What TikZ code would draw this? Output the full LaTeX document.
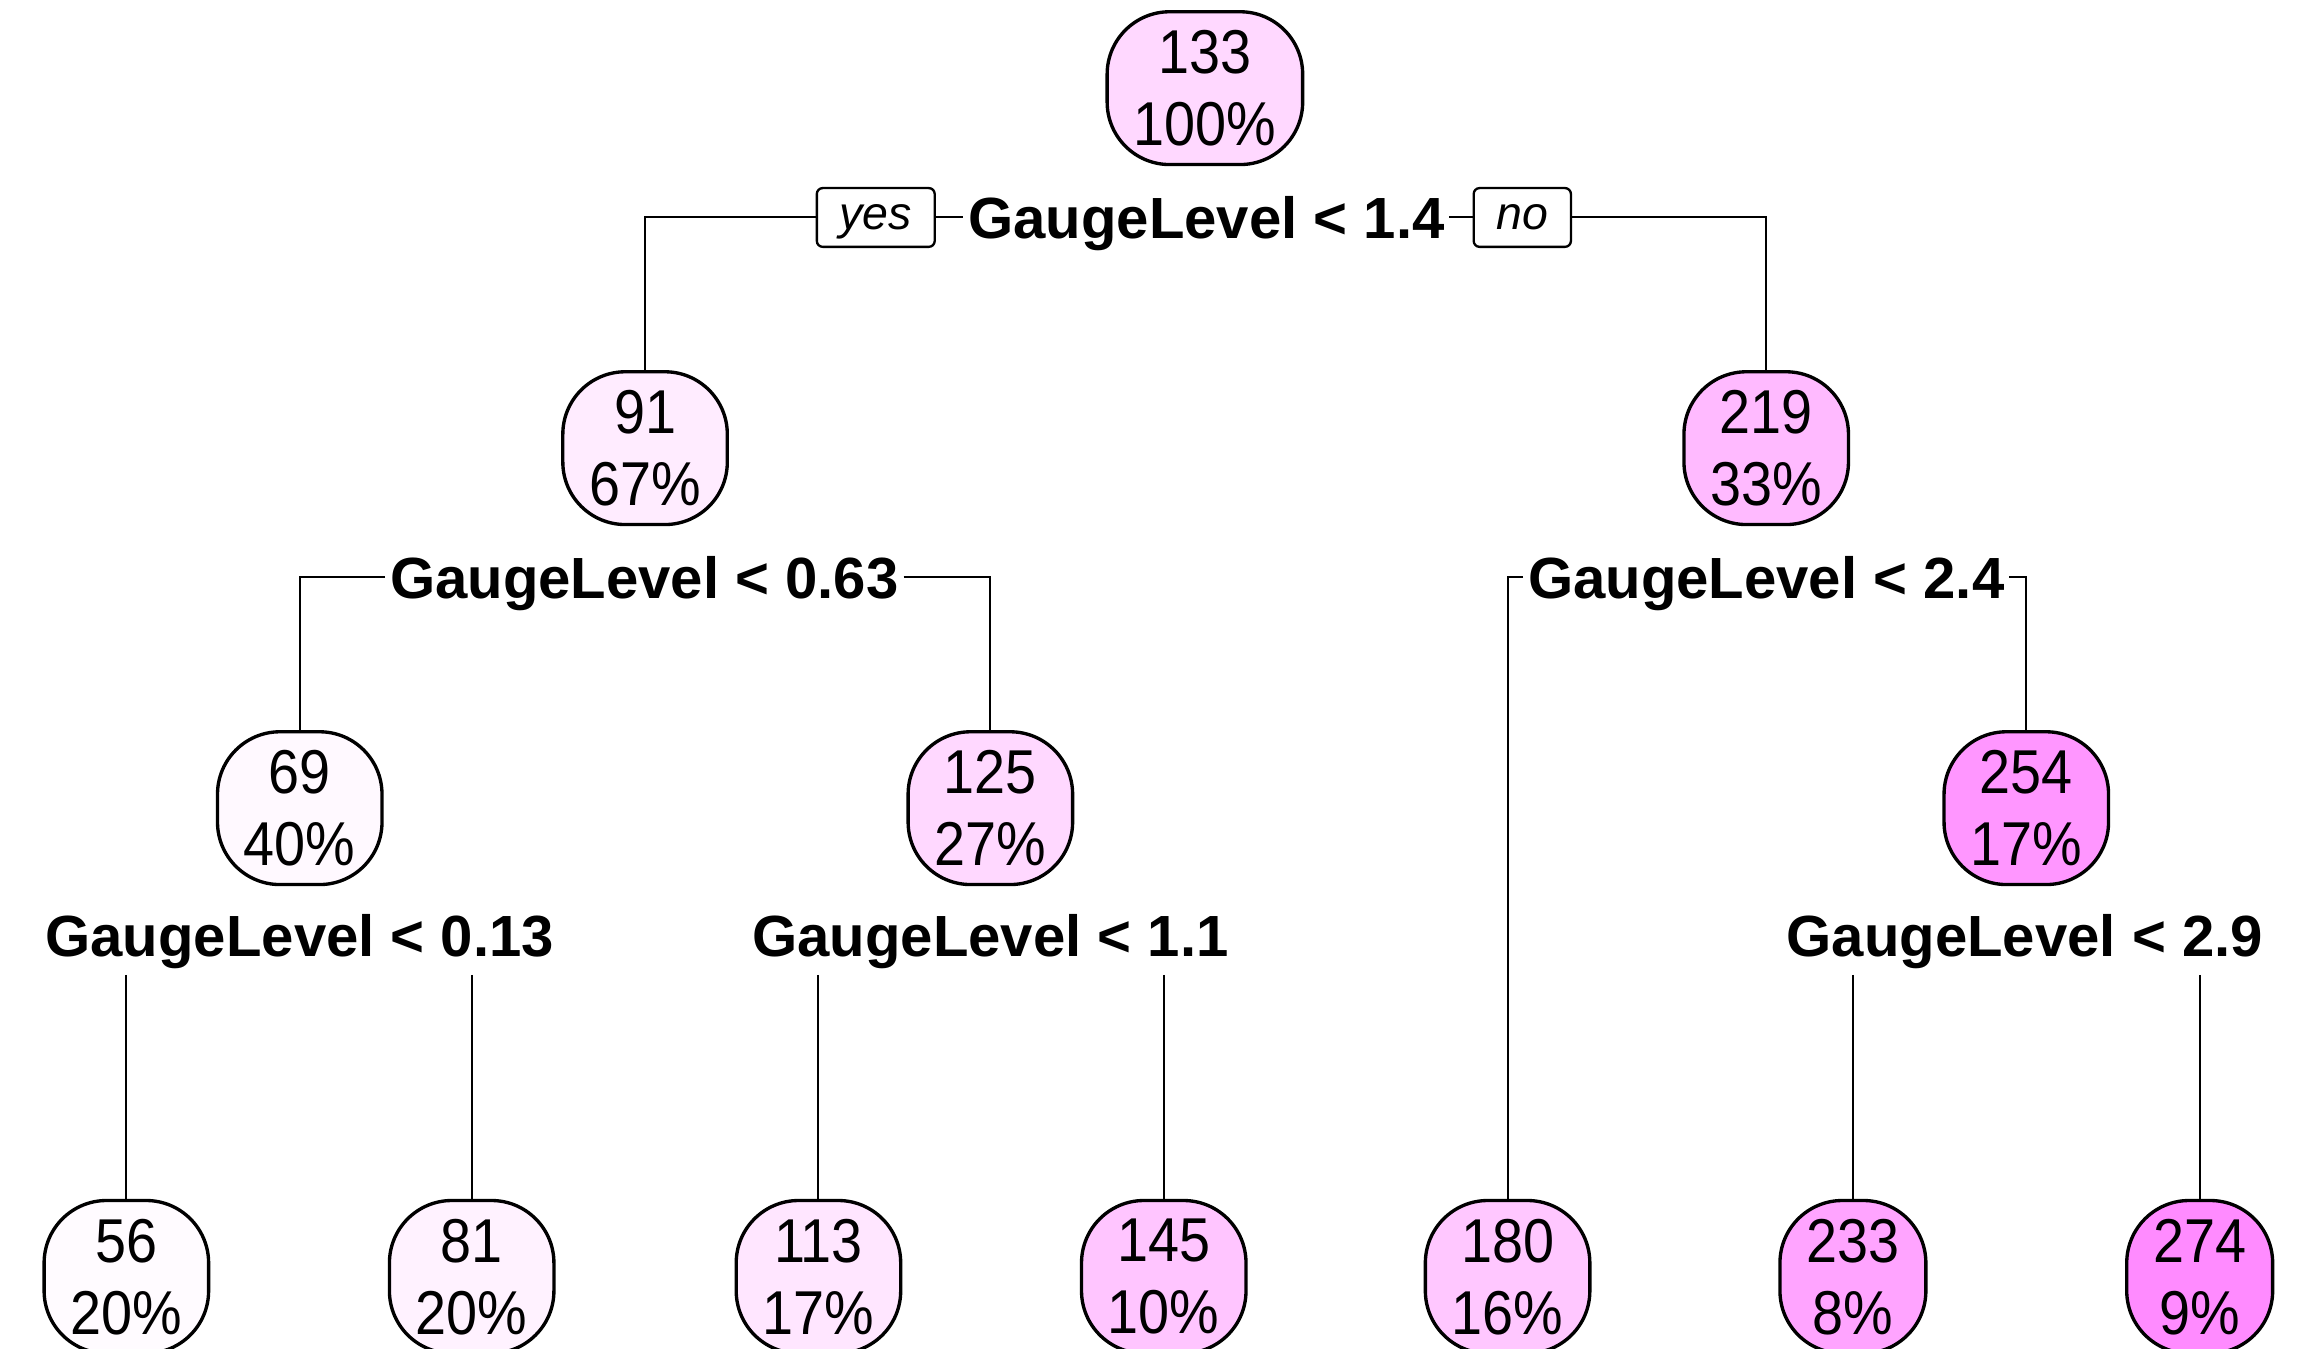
\documentclass[tikz,border=0pt]{standalone}
\usepackage{fontspec}
\setmainfont{Liberation Sans}
\newfontfamily\narrowsans[FakeStretch=0.9]{Liberation Sans}
\definecolor{pk}{RGB}{255,128,255}
\colorlet{c56}{pk!3}
\colorlet{c69}{pk!5}
\colorlet{c81}{pk!10}
\colorlet{c91}{pk!15}
\colorlet{c113}{pk!20}
\colorlet{c125}{pk!31}
\colorlet{c133}{pk!31}
\colorlet{c145}{pk!46}
\colorlet{c180}{pk!44}
\colorlet{c219}{pk!54}
\colorlet{c233}{pk!72}
\colorlet{c254}{pk!83}
\colorlet{c274}{pk!91}
\begin{document}
\begin{tikzpicture}[x=0.02cm,y=-0.02cm,
  tnode/.style={draw=black, line width=1.3pt, rounded corners=0.85cm, align=center,
    font=\narrowsans\fontsize{24}{27.9}\selectfont, inner xsep=0.36cm, inner ysep=0pt,
    minimum height=2.08cm},
  split/.style={font=\fontsize{22.5}{27}\selectfont\bfseries, inner xsep=0.06cm,
    inner ysep=0pt, text height=16.1pt, text depth=0pt},
  yn/.style={draw=black, line width=0.9pt, rounded corners=0.08cm,
    font=\fontsize{18}{20}\selectfont\itshape, inner xsep=0.31cm, inner ysep=0pt,
    minimum height=0.8cm, text height=9.5pt, text depth=0pt},
  edge/.style={line width=0.8pt}]
\useasboundingbox (0,0) rectangle (1568,918);
\clip (0,0) rectangle (1568,918);

% root and first split
\node[tnode, fill=c133] (n1) at (820,60) {133\\100\%};
\node[split] (s1) at (821,148) {GaugeLevel < 1.4};
\node[yn] (yes) at (596,148) {yes};
\node[yn] (no) at (1036,148) {no};

% second level
\node[tnode, fill=c91] (n2) at (439,305) {91\\67\%};
\node[tnode, fill=c219] (n3) at (1202,305) {219\\33\%};
\node[split] (s2) at (438.5,393) {GaugeLevel < 0.63};
\node[split] (s3) at (1202,393) {GaugeLevel < 2.4};

% third level
\node[tnode, fill=c69] (n4) at (204,550) {69\\40\%};
\node[tnode, fill=c125] (n5) at (674,550) {125\\27\%};
\node[tnode, fill=c254] (n7) at (1379,550) {254\\17\%};
\node[split] (s4) at (204,637) {GaugeLevel < 0.13};
\node[split] (s5) at (674,637) {GaugeLevel < 1.1};
\node[split] (s7) at (1378,637) {GaugeLevel < 2.9};

% leaves
\node[tnode, fill=c56]  (l1) at (86,869)   {56\\20\%};
\node[tnode, fill=c81]  (l2) at (321,869)  {81\\20\%};
\node[tnode, fill=c113] (l3) at (557,869)  {113\\17\%};
\node[tnode, fill=c145] (l4) at (792,869)  {145\\10\%};
\node[tnode, fill=c180] (n6) at (1026,869) {180\\16\%};
\node[tnode, fill=c233] (l6) at (1261,869) {233\\8\%};
\node[tnode, fill=c274] (l7) at (1497,869) {274\\9\%};

% branches
\draw[edge] (yes.west) -| (n2.north);
\draw[edge] (yes.east) -- (s1.west);
\draw[edge] (s1.east) -- (no.west);
\draw[edge] (no.east) -| (n3.north);
\draw[edge] (s2.west) -| (n4.north);
\draw[edge] (s2.east) -| (n5.north);
\draw[edge] (s3.west) -| (n6.north);
\draw[edge] (s3.east) -| (n7.north);
\draw[edge] ([yshift=-0.24cm]l1.north |- s4.south) -- (l1.north);
\draw[edge] ([yshift=-0.24cm]l2.north |- s4.south) -- (l2.north);
\draw[edge] ([yshift=-0.24cm]l3.north |- s5.south) -- (l3.north);
\draw[edge] ([yshift=-0.24cm]l4.north |- s5.south) -- (l4.north);
\draw[edge] ([yshift=-0.24cm]l6.north |- s7.south) -- (l6.north);
\draw[edge] ([yshift=-0.24cm]l7.north |- s7.south) -- (l7.north);
\end{tikzpicture}
\end{document}
